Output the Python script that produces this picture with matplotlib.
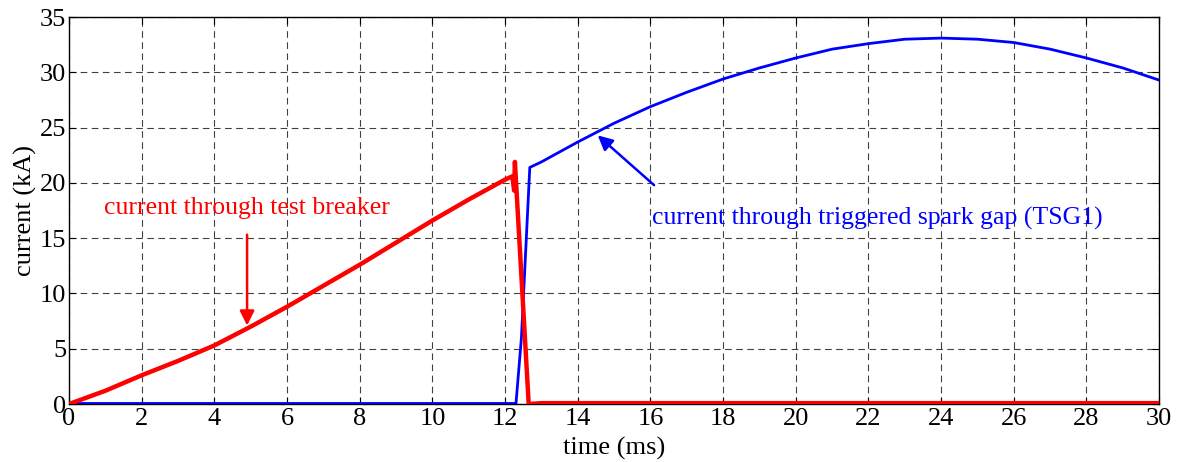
import matplotlib
matplotlib.use("Agg")
import matplotlib.pyplot as plt

# Current through the test breaker (kA) vs time (ms)
t_breaker = [0, 1, 2, 3, 4, 5, 6, 7, 8, 9, 10, 11, 12, 12.2, 12.25, 12.27, 12.65, 13, 30]
i_breaker = [0, 1.2, 2.6, 3.9, 5.3, 7.0, 8.8, 10.7, 12.6, 14.6, 16.6, 18.5, 20.3, 20.6, 19.3, 21.9, 0.0, 0.08, 0.08]

# Current through the triggered spark gap TSG1 (kA) vs time (ms)
t_tsg = [0, 12.3, 12.45, 12.68, 13, 14, 15, 16, 17, 18, 19, 20, 21, 22, 23, 24, 25, 26, 27, 28, 29, 30]
i_tsg = [0.05, 0.05, 6.0, 21.4, 21.9, 23.7, 25.4, 26.9, 28.2, 29.4, 30.4, 31.3, 32.1, 32.6, 33.0, 33.1, 33.0, 32.7, 32.1, 31.3, 30.4, 29.3]

x_ticks = list(range(0, 31, 2))
y_ticks = list(range(0, 36, 5))

plt.rcParams['font.family'] = ['Liberation Serif', 'DejaVu Serif']
plt.rcParams['mathtext.fontset'] = 'stix'

fig = plt.figure(figsize=(11.78, 4.62), dpi=100)
ax = fig.add_axes([0.0586, 0.1255, 0.9254, 0.8375])

ax.plot(t_tsg, i_tsg, color=(0, 0, 1), lw=2.0, zorder=3)
ax.plot(t_breaker, i_breaker, color=(1, 0, 0), lw=3.2, zorder=4)

ax.set_xlim(0, 30)
ax.set_ylim(0, 35)
ax.set_xticks(x_ticks)
ax.set_yticks(y_ticks)
ax.tick_params(direction='in', top=True, right=True, labelsize=19, length=5, width=0.8)
ax.tick_params(axis='x', pad=3)
ax.tick_params(axis='y', pad=2)
for s in ax.spines.values():
    s.set_linewidth(1.0)

ax.grid(True, color='k', linestyle=(0, (6, 4)), linewidth=0.8, alpha=0.75)
ax.set_axisbelow(True)

ax.set_xlabel('time (ms)', fontsize=19, labelpad=5)
ax.set_ylabel('current (kA)', fontsize=19, labelpad=2)

ax.annotate('current through test breaker', xy=(4.9, 7.1), xytext=(4.9, 17.7),
            color='red', fontsize=18.5, ha='center', va='center',
            arrowprops=dict(arrowstyle='-|>', color='red', lw=1.8, mutation_scale=22,
                            shrinkA=9, shrinkB=0))
ax.annotate('', xy=(14.55, 24.3), xytext=(16.1, 19.8),
            arrowprops=dict(arrowstyle='-|>', color='blue', lw=1.8, mutation_scale=22,
                            shrinkA=0, shrinkB=0))
ax.text(16.05, 16.8, 'current through triggered spark gap (TSG1)', color='blue',
        fontsize=18.5, ha='left', va='center')

fig.savefig('out.png', dpi=100)
